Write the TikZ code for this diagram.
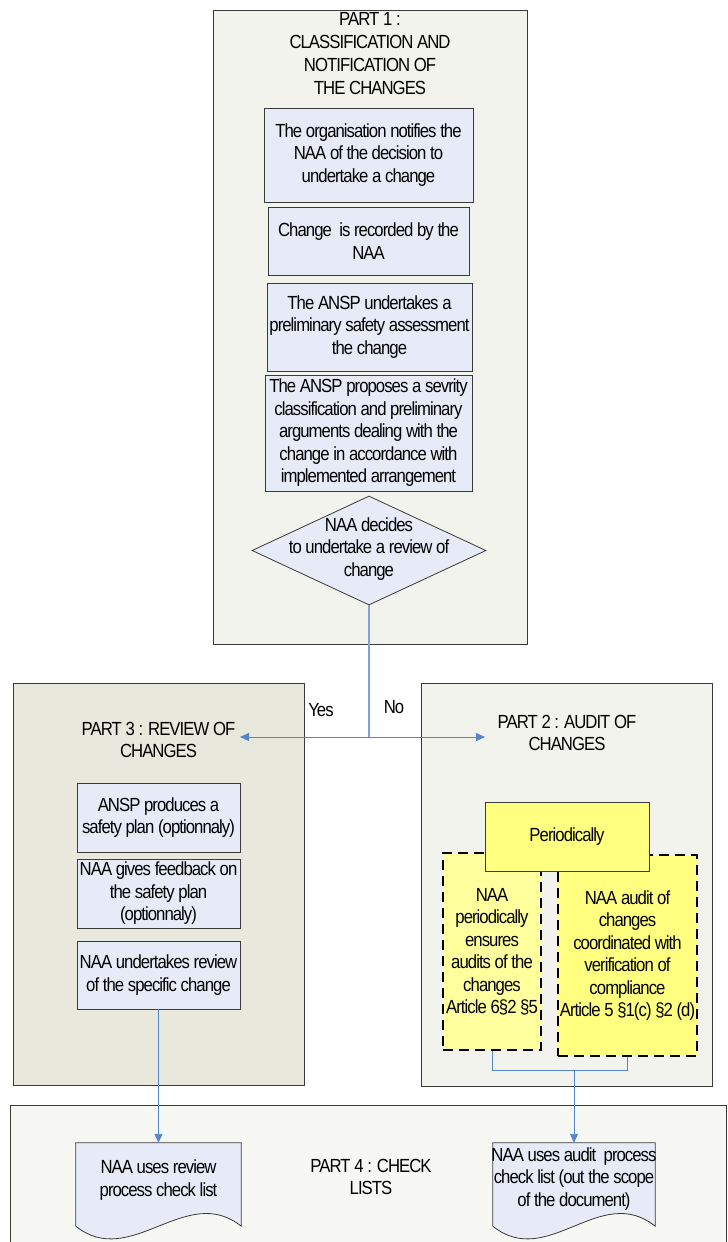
\documentclass[tikz,border=0pt]{standalone}
\usepackage{fontspec}
\setmainfont{Liberation Sans}[FakeStretch=0.88,LetterSpace=-5]
\usetikzlibrary{shapes.geometric,arrows.meta}

\definecolor{partgreen}{HTML}{F1F3EC}
\definecolor{partkhaki}{HTML}{E8E8DC}
\definecolor{partlight}{HTML}{F7F7F4}
\definecolor{stepblue}{HTML}{E6EBF7}
\definecolor{edgegray}{HTML}{3A3A3A}
\definecolor{flowblue}{HTML}{5585CC}
\definecolor{stemblue}{HTML}{7FA3D9}
\definecolor{noteyellow}{HTML}{FFFF80}
\definecolor{paleyellow}{HTML}{FFFF9E}

\tikzset{
  every node/.style={font=\fontsize{19}{22.5}\selectfont, inner sep=0pt, align=center},
  partbox/.style={draw=edgegray, line width=0.8pt, rectangle},
  stepbox/.style={draw=edgegray, fill=stepblue, line width=0.8pt, rectangle},
  decision/.style={draw=edgegray, fill=stepblue, line width=0.8pt, diamond},
  auditbox/.style={draw=black, line width=2.8pt, dash pattern=on 10pt off 6pt, rectangle},
  notebox/.style={draw=edgegray, fill=noteyellow, line width=0.8pt, rectangle},
  docframe/.style={rectangle},
  docshape/.style={draw=edgegray, fill=stepblue, line width=0.8pt},
  flow/.style={draw=flowblue, line width=0.9pt},
  arr/.style={flow, -{Triangle[length=9pt,width=8pt]}},
}

\begin{document}
\begin{tikzpicture}[x=1pt, y=-1pt]
\useasboundingbox (0,0) rectangle (728,1242);
\clip (0,0) rectangle (728,1242);

% ---- Part 1: classification and notification ----
\node[partbox, fill=partgreen, minimum width=314pt, minimum height=634pt] (part1) at (370,327) {};
\node[font=\fontsize{19}{23}\selectfont] (p1title) at (370,54)
  {PART 1 :\\CLASSIFICATION AND\\NOTIFICATION OF\\THE CHANGES};
\node[stepbox, minimum width=209pt, minimum height=94pt] (s1) at (368.5,155)
  {The organisation notifies the\\NAA of the decision to\\undertake a change};
\node[stepbox, minimum width=201pt, minimum height=68pt] (s2) at (368.5,241)
  {Change\ \ is recorded by the\\NAA};
\node[stepbox, minimum width=205pt, minimum height=88pt] (s3) at (369.5,327)
  {The ANSP undertakes a\\preliminary safety assessment\\the change};
\node[stepbox, minimum width=207pt, minimum height=116pt] (s4) at (368.5,433)
  {The ANSP\ proposes\ a sevrity\\classification and preliminary\\arguments dealing with the\\change in accordance with\\implemented arrangement};
\node[decision, minimum width=234pt, minimum height=109pt] (dec) at (369,550.5) {};
\node (dectext) at (369,549) {NAA decides\\to undertake a review of\\change};

% ---- Part 3: review of changes ----
\node[partbox, fill=partkhaki, minimum width=291pt, minimum height=402pt] (part3) at (158.5,884) {};
\node (p3title) at (158.5,740) {PART 3 : REVIEW OF\\CHANGES};
\node[stepbox, minimum width=163pt, minimum height=69pt] (r1) at (158.5,817.5)
  {ANSP produces a\\safety plan (optionnaly)};
\node[stepbox, minimum width=163pt, minimum height=69pt] (r2) at (158.5,893.5)
  {NAA gives feedback on\\the safety plan\\(optionnaly)};
\node[stepbox, minimum width=163pt, minimum height=68pt] (r3) at (158.5,975)
  {NAA undertakes review\\of the specific\ change};

% ---- Part 2: audit of changes ----
\node[partbox, fill=partgreen, minimum width=291pt, minimum height=403pt] (part2) at (566.5,884.5) {};
\node (p2title) at (567,733) {PART 2 : AUDIT OF\\CHANGES};
\node[auditbox, fill=paleyellow, minimum width=98pt, minimum height=197pt] (auditL) at (492,951.5)
  {NAA\\periodically\\ensures\\audits of the\\changes\\Article 6§2 §5};
\node[auditbox, fill=noteyellow, minimum width=139pt, minimum height=201pt] (auditR) at (627.5,955.5)
  {NAA audit of\\changes\\coordinated with\\verification of\\compliance\\Article 5 §1(c) §2 (d)};
\node[notebox, minimum width=164pt, minimum height=69pt] (period) at (567,836.5) {Periodically};

% ---- Part 4: check lists ----
\node[partbox, fill=partlight, minimum width=716pt, minimum height=160pt] (part4) at (368,1185) {};
\node (p4title) at (371,1177) {PART 4 : CHECK\\LISTS};

\node[docframe, minimum width=165pt, minimum height=74pt] (docL) at (158.5,1180) {};
\draw[docshape] (docL.north west) -- (docL.north east) -- ([yshift=-9pt]docL.south east)
  .. controls +(-55,-44) and +(55,44) .. ([yshift=-9pt]docL.south west) -- cycle;
\node (docLtext) at (158.5,1180) {NAA uses review\\process check list};

\node[docframe, minimum width=162pt, minimum height=73pt] (docR) at (574,1179.5) {};
\draw[docshape] (docR.north west) -- (docR.north east) -- ([yshift=-10pt]docR.south east)
  .. controls +(-55,-44) and +(55,44) .. ([yshift=-10pt]docR.south west) -- cycle;
\node (docRtext) at (574,1179) {NAA uses audit\ \ process\\check list (out the scope\\of the document)};

% ---- connectors ----
\coordinate (split) at (369,737);
\coordinate (yesend) at (240,737);
\coordinate (noend) at (485,737);
\coordinate (join) at (574,1070);

\draw[draw=stemblue, line width=1.4pt] (dec.south) -- (split);
\draw[arr] (split) -- (yesend);
\draw[arr] (split) -- (noend);
\node (yes) at (321,710) {Yes};
\node (no) at (394,707) {No};

\draw[arr] (r3.south) -- (docL.north);
\draw[flow] (auditL.south) |- (auditR.south |- join) -- (auditR.south);
\draw[arr] (join) -- (docR.north);
\end{tikzpicture}
\end{document}
